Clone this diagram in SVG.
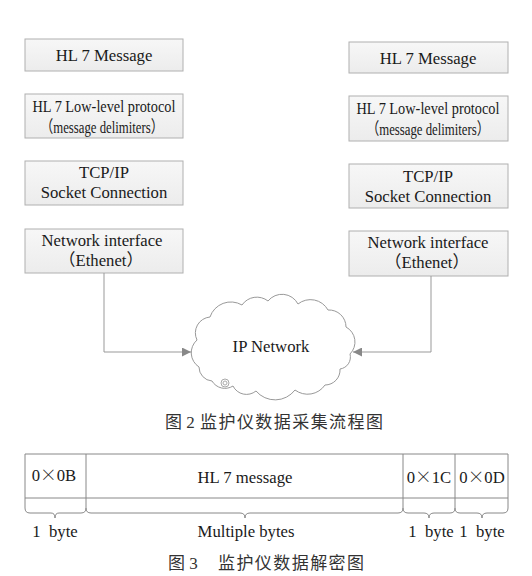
<svg xmlns="http://www.w3.org/2000/svg" width="532" height="576" viewBox="0 0 532 576">
<defs>
<linearGradient id="g" x1="0" y1="0" x2="0" y2="1">
<stop offset="0" stop-color="#f7f7f7"/>
<stop offset="1" stop-color="#ececec"/>
</linearGradient>
<marker id="arr" viewBox="0 0 10 10" refX="10" refY="5" markerWidth="9" markerHeight="9" markerUnits="userSpaceOnUse" orient="auto">
<path d="M0,0 L10,5 L0,10 Z" fill="#888"/>
</marker>
<style>
.box{fill:url(#g);stroke:#b0b0b0;stroke-width:1}
.t{font-family:"Liberation Serif","Noto Sans CJK SC",serif;font-size:16.7px;fill:#1a1a1a;text-anchor:middle}
.cj{font-family:"Noto Sans CJK SC",sans-serif;font-weight:300}
.cap{font-family:"Liberation Serif","Noto Sans CJK SC",serif;font-size:17px;fill:#333}
.ln{fill:none;stroke:#999;stroke-width:1}
.tb{fill:none;stroke:#888;stroke-width:1}
</style>
</defs>
<rect width="532" height="576" fill="#fff"/>

<g id="left-hl7-message"><rect class="box" x="25" y="39" width="158" height="32"/><text class="t" x="104" y="61">HL 7 Message</text></g>
<g id="left-lowlevel"><rect class="box" x="25" y="94" width="158" height="44"/><text class="t" x="104" y="112" textLength="143" lengthAdjust="spacingAndGlyphs">HL 7 Low-level protocol</text><text class="t" x="102" y="133" textLength="123" lengthAdjust="spacingAndGlyphs">（message delimiters）</text></g>
<g id="left-tcpip"><rect class="box" x="25" y="161" width="158" height="44"/><text class="t" x="104" y="178">TCP/IP</text><text class="t" x="104" y="198">Socket Connection</text></g>
<g id="left-netif"><rect class="box" x="25" y="229" width="158" height="44"/><text class="t" x="102" y="246">Network interface</text><text class="t" x="101" y="266">（Ethenet）</text></g>

<g id="right-hl7-message"><rect class="box" x="349" y="42" width="159" height="31"/><text class="t" x="428" y="64">HL 7 Message</text></g>
<g id="right-lowlevel"><rect class="box" x="349" y="96" width="159" height="45"/><text class="t" x="428" y="114" textLength="143" lengthAdjust="spacingAndGlyphs">HL 7 Low-level protocol</text><text class="t" x="428" y="135" textLength="123" lengthAdjust="spacingAndGlyphs">（message delimiters）</text></g>
<g id="right-tcpip"><rect class="box" x="349" y="164" width="159" height="44"/><text class="t" x="428" y="182">TCP/IP</text><text class="t" x="428" y="202">Socket Connection</text></g>
<g id="right-netif"><rect class="box" x="349" y="231" width="159" height="45"/><text class="t" x="428" y="248">Network interface</text><text class="t" x="427" y="268">（Ethenet）</text></g>

<g id="cloud">
<path d="M197,340 A16,16 0 0 1 210,317 A22,22 0 0 1 242,305 A18,18 0 0 1 268,301 A18,18 0 0 1 298,304 A20,20 0 0 1 328,310 A17,17 0 0 1 346,327 A17,17 0 0 1 350,354 A12,12 0 0 1 340,369 A15,15 0 0 1 325,385 A21,21 0 0 1 295,390 A25,25 0 0 1 256,391 A15,15 0 0 1 233,386 A15,15 0 0 1 212,381 A14,14 0 0 1 199,367 A17,17 0 0 1 197,340 Z" fill="#fff" stroke="#999" stroke-width="1"/>
<circle cx="225" cy="383" r="2" fill="none" stroke="#aaa"/>
<circle cx="225" cy="383" r="4" fill="none" stroke="#aaa"/>
<text class="t" x="271" y="352">IP Network</text>
</g>

<g id="connectors">
<path class="ln" d="M104,273 V352 H191" marker-end="url(#arr)"/>
<path class="ln" d="M431,276 V352 H353" marker-end="url(#arr)"/>
</g>

<text class="cap" x="165" y="428">图 2</text>
<text class="cap" x="200" y="428" textLength="183" lengthAdjust="spacing">监护仪数据采集流程图</text>

<g id="frame-table">
<path class="tb" d="M25,454 H508 M25,498 H508 M25,454 V508 M86,454 V508 M403,454 V508 M455,454 V508 M508,454 V508"/>
<path class="tb" d="M25,508 Q25,513 30,513 H51 Q55,513 55,518 Q55,513 59,513 H81 Q86,513 86,508"/>
<path class="tb" d="M86,508 Q86,513 91,513 H240 Q245,513 245,518 Q245,513 250,513 H398 Q403,513 403,508"/>
<path class="tb" d="M403,508 Q403,513 408,513 H424 Q429,513 429,518 Q429,513 434,513 H450 Q455,513 455,508"/>
<path class="tb" d="M455,508 Q455,513 460,513 H477 Q482,513 482,518 Q482,513 487,513 H503 Q508,513 508,508"/>
<text class="t" x="54" y="481">0<tspan class="cj">×</tspan>0B</text>
<text class="t" x="245" y="483">HL 7 message</text>
<text class="t" x="429" y="483">0<tspan class="cj">×</tspan>1C</text>
<text class="t" x="482" y="483">0<tspan class="cj">×</tspan>0D</text>
<text class="t" x="55" y="537" xml:space="preserve">1  byte</text>
<text class="t" x="246" y="537">Multiple bytes</text>
<text class="t" x="431" y="537" xml:space="preserve">1  byte</text>
<text class="t" x="482" y="537" xml:space="preserve">1  byte</text>
</g>

<text class="cap" x="168" y="569">图 3</text>
<text class="cap" x="218" y="569" textLength="146" lengthAdjust="spacing">监护仪数据解密图</text>
</svg>
